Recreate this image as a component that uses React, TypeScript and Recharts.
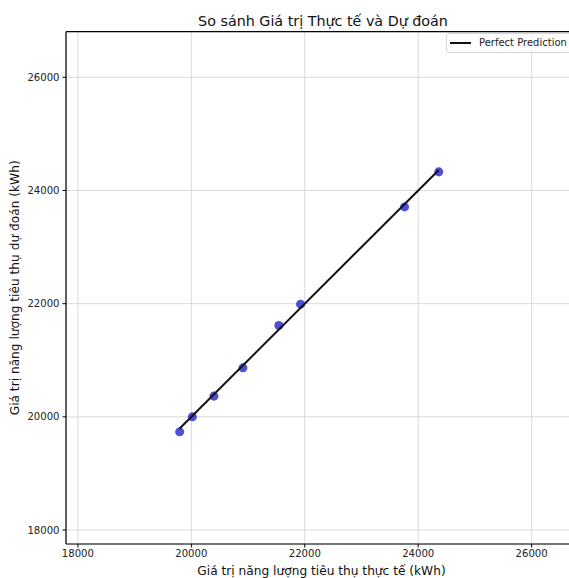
import { ComposedChart, Scatter, XAxis, YAxis, ZAxis, CartesianGrid, Label, ReferenceLine } from "recharts";

const actual = [19794, 20018, 20398, 20909, 21543, 21926, 23759, 24363];
const predicted = [19735, 20000, 20366, 20866, 21615, 21991, 23710, 24329];
const lineEnds = [19794, 24363];
const xTicks = [18000, 20000, 22000, 24000, 26000];
const yTicks = [18000, 20000, 22000, 24000, 26000];
const xDomain = [17790, 26800];
const yDomain = [17753, 26806];

const points = actual.map((x, i) => ({ x, y: predicted[i] }));
const perfect = lineEnds.map((v) => ({ x: v, y: v }));

const FONT = "'DejaVu Sans', sans-serif";
const tickStyle = { fontSize: 10.1, fill: "#222", fontFamily: FONT };
const labelStyle = { fontSize: 12.2, fill: "#111", fontFamily: FONT };

export default function App() {
  return (
    <div style={{ position: "absolute", left: 0, top: 0, width: 569, height: 578, overflow: "hidden", background: "#fff" }}>
      <div style={{ position: "absolute", top: 12.5, left: 0, width: 646, textAlign: "center", fontFamily: FONT, fontSize: 14.3, color: "#111", lineHeight: "17px" }}>
        So sánh Giá trị Thực tế và Dự đoán
      </div>
      <ComposedChart width={590} height={578} margin={{ top: 31.7, right: 13, bottom: 0, left: 0 }} style={{ position: "absolute", left: 0, top: 0 }}>
        <CartesianGrid stroke="#d0d0d0" strokeWidth={0.8} />
        <XAxis dataKey="x" type="number" domain={xDomain} allowDataOverflow ticks={xTicks} height={34}
          tick={tickStyle} tickSize={3.5} tickMargin={2} stroke="#000" axisLine={false}>
          <Label value="Giá trị năng lượng tiêu thụ thực tế (kWh)" position="insideBottom" offset={3} style={labelStyle} />
        </XAxis>
        <YAxis dataKey="y" type="number" domain={yDomain} allowDataOverflow ticks={yTicks} width={66}
          tick={tickStyle} tickSize={3.5} tickMargin={3} stroke="#000" axisLine={false}>
          <Label value="Giá trị năng lượng tiêu thụ dự đoán (kWh)" angle={-90} position="insideLeft" offset={15} style={{ ...labelStyle, textAnchor: "middle" }} />
        </YAxis>
        <ZAxis range={[40, 40]} />
        <ReferenceLine x={xDomain[0]} stroke="#000" strokeWidth={1.2} />
        <ReferenceLine x={xDomain[1]} stroke="#000" strokeWidth={1.2} />
        <ReferenceLine y={yDomain[0]} stroke="#000" strokeWidth={1.2} />
        <ReferenceLine y={yDomain[1]} stroke="#000" strokeWidth={1.2} />
        <Scatter data={points} fill="#2f2fd0" fillOpacity={0.85} shape="circle" legendType="none" isAnimationActive={false} />
        <Scatter data={perfect} line={{ stroke: "#111", strokeWidth: 2 }} shape={() => <g />} legendType="line" isAnimationActive={false} />
      </ComposedChart>
      <div style={{ position: "absolute", top: 33, left: 446, background: "rgba(255,255,255,0.8)", border: "1px solid #d6d6d6", borderRadius: 3, padding: "3px 6px 3px 3px", display: "flex", alignItems: "center", fontFamily: FONT, fontSize: 10, lineHeight: "12px", color: "#222", whiteSpace: "nowrap" }}>
        <span style={{ display: "inline-block", width: 21, height: 2, background: "#111", marginRight: 8 }} />
        Perfect Prediction
      </div>
    </div>
  );
}
